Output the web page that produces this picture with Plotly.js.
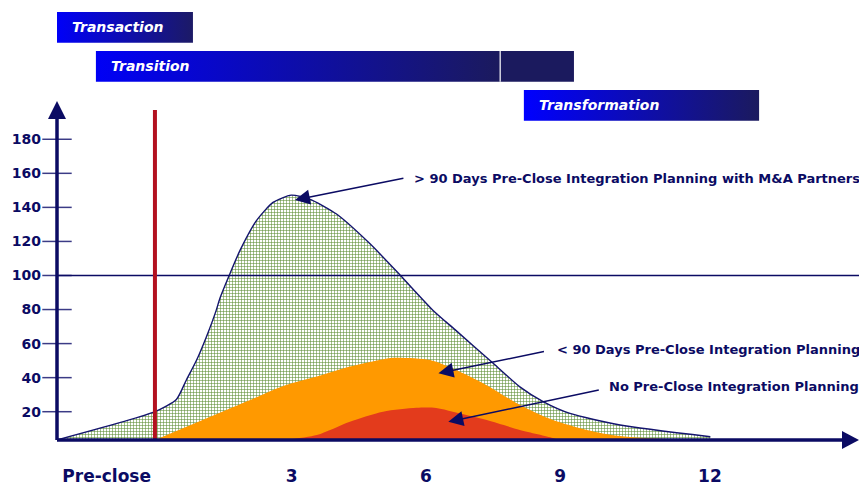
<!DOCTYPE html>
<html><head><meta charset="utf-8">
<script src="https://cdn.plot.ly/plotly-3.0.1.min.js"></script>
<style>html,body{margin:0;padding:0;background:#fff}#chart{width:859px;height:486px}</style>
</head><body><div id="chart"></div>
<script>
// ---- data (x = months relative to close) ----
const withPartnersX = [-2.25, -0.06, 0.42, 0.64, 0.87, 1.09, 1.31, 1.39, 1.60, 1.84, 2.21, 2.58, 2.99, 3.40, 4.00, 4.75, 5.43, 6.16, 6.65, 7.51, 8.10, 8.63, 9.22, 10.34, 12.36];
const withPartnersY = [3.4, 20, 27.2, 38.5, 50.2, 63.9, 79.5, 86.4, 100, 114.6, 132.2, 142.9, 147.2, 144.9, 136.1, 118.6, 100, 79.5, 68.2, 48.3, 34.6, 25.8, 19.0, 12.2, 5.3];

const under90X = [-0.06, 2.07, 2.81, 3.56, 4.30, 5.05, 5.27, 6.09, 6.60, 7.36, 8.10, 8.84, 9.60, 10.34, 11.86];
const under90Y = [3.4, 26.9, 35.1, 40.6, 46.5, 50.8, 51.7, 50.4, 45.4, 35.6, 23.9, 15.1, 9.3, 5.7, 3.4];

const noPlanX = [2.81, 3.56, 4.30, 5.04, 5.79, 6.23, 6.60, 7.36, 8.10, 8.84, 8.96];
const noPlanY = [3.4, 6.3, 14.1, 20, 22.3, 22.2, 20, 15.1, 9.3, 4.6, 3.4];

const seriesLabels = ['> 90 Days Pre-Close Integration Planning with M&A Partners',
                      '< 90 Days Pre-Close Integration Planning',
                      'No Pre-Close Integration Planning'];

const xTickVals = [-1.14, 3, 6, 9, 12.35];
const xTickText = ['Pre-close', '3', '6', '9', '12'];
const yTickVals = [20, 40, 60, 80, 100, 120, 140, 160, 180];

const phaseNames = ['Transaction', 'Transition', 'Transformation'];
const phaseStart = [-2.25, -1.38, 8.19];
const phaseEnd   = [0.79, 9.31, 13.45];
const phaseRow   = [0, 1, 2];
const transitionSplit = 7.66;

const closeMark = -0.06;
const referenceLevel = 100;

// ---- style ----
const NAVY = '#0b0b63';
const FONT = 'DejaVu Sans, Verdana, sans-serif';
const xRange = [-2.25, 15.684];
const yRange = [3.38, 201.3];
const yDomTop = 0.7659;
const y2Range = [10.579, -0.7026];
const barHalf = 0.395;
const plotW = 802, plotH = 440;

const traces = [];
traces.push({
  x: withPartnersX, y: withPartnersY, type: 'scatter', mode: 'lines',
  line: {color: '#14146e', width: 1.4, shape: 'spline', smoothing: 0.6},
  fill: 'tozeroy',
  fillpattern: {shape: '+', size: 3, solidity: 0.34, fgcolor: '#5e8f36', bgcolor: '#ffffff'},
  hoverinfo: 'skip', showlegend: false
});
traces.push({
  x: under90X, y: under90Y, type: 'scatter', mode: 'lines',
  line: {color: '#ff9900', width: 0, shape: 'spline', smoothing: 0.8},
  fill: 'tozeroy', fillcolor: '#ff9900', hoverinfo: 'skip', showlegend: false
});
traces.push({
  x: noPlanX, y: noPlanY, type: 'scatter', mode: 'lines',
  line: {color: '#e33b1c', width: 0, shape: 'spline', smoothing: 0.8},
  fill: 'tozeroy', fillcolor: '#e33b1c', hoverinfo: 'skip', showlegend: false
});
// cross tick marks on y axis
traces.push({
  x: yTickVals.map(() => xRange[0]), y: yTickVals, type: 'scatter', mode: 'markers',
  marker: {symbol: 'line-ew', size: 21, line: {color: '#3b3b86', width: 1.5}},
  cliponaxis: false, hoverinfo: 'skip', showlegend: false
});
// phase banners
const grads = [
  [[0, '#0000f8'], [1, '#1c1a66']],
  [[0, '#0000f5'], [0.84, '#1b1a5e'], [1, '#1b1a5e']],
  [[0, '#0000ff'], [1, '#1b1a5e']]
];
phaseNames.forEach((n, i) => {
  const r = phaseRow[i];
  traces.push({
    x: [phaseStart[i], phaseEnd[i], phaseEnd[i], phaseStart[i], phaseStart[i]],
    y: [r - barHalf, r - barHalf, r + barHalf, r + barHalf, r - barHalf],
    xaxis: 'x', yaxis: 'y2', type: 'scatter', mode: 'lines',
    line: {width: 0}, fill: 'toself',
    fillgradient: {type: 'horizontal', colorscale: grads[i]},
    hoverinfo: 'skip', showlegend: false
  });
});

const shapes = [];
// reference line at 100
shapes.push({type: 'line', xref: 'paper', yref: 'y', x0: 0, x1: 1, y0: referenceLevel, y1: referenceLevel,
  line: {color: NAVY, width: 1.5}, layer: 'above'});
// close marker (red)
shapes.push({type: 'line', xref: 'x', yref: 'y', x0: closeMark, x1: closeMark, y0: yRange[0], y1: 197.2,
  line: {color: '#b3111f', width: 4}, layer: 'above'});
// transition divider
shapes.push({type: 'line', xref: 'x', yref: 'y2', x0: transitionSplit, x1: transitionSplit,
  y0: 1 - barHalf, y1: 1 + barHalf, line: {color: '#ffffff', width: 1.2}, layer: 'above'});
// axes lines
shapes.push({type: 'line', xref: 'paper', yref: 'paper', x0: 0, x1: 0, y0: 0, y1: 0.75,
  line: {color: NAVY, width: 3.5}, layer: 'above'});
shapes.push({type: 'line', xref: 'paper', yref: 'paper', x0: 0, x1: 1 - 14 / plotW, y0: 0, y1: 0,
  line: {color: NAVY, width: 3.5}, layer: 'above'});
// arrowheads
const yTip = (440 - 101) / plotH, yBase = (440 - 119) / plotH, hw = 9 / plotW;
shapes.push({type: 'path', xref: 'paper', yref: 'paper',
  path: `M 0 ${yTip} L ${-hw} ${yBase} L ${hw} ${yBase} Z`,
  fillcolor: NAVY, line: {width: 0}, layer: 'above'});
const xBase = 1 - 17 / plotW, vh = 9 / plotH;
shapes.push({type: 'path', xref: 'paper', yref: 'paper',
  path: `M 1 0 L ${xBase} ${vh} L ${xBase} ${-vh} Z`,
  fillcolor: NAVY, line: {width: 0}, layer: 'above'});

const annotations = [];
// series labels + arrows
const labelPos = [[5.68, 157.2], [8.89, 56.7], [10.05, 34.6]];
const arrowTip = [[3.07, 144.3], [6.28, 42.6], [6.50, 14.1]];
const arrowOff = [[110, -22], [107, -22], [152, -32]];
seriesLabels.forEach((t, i) => {
  annotations.push({x: labelPos[i][0], y: labelPos[i][1], xref: 'x', yref: 'y', text: t,
    showarrow: false, xanchor: 'left', yanchor: 'middle',
    font: {family: FONT, size: 13, color: NAVY, weight: 'bold'}});
  annotations.push({x: arrowTip[i][0], y: arrowTip[i][1], xref: 'x', yref: 'y', text: '',
    showarrow: true, ax: arrowOff[i][0], ay: arrowOff[i][1], axref: 'pixel', ayref: 'pixel',
    arrowhead: 2, arrowsize: 2, arrowwidth: 1.5, arrowcolor: NAVY, standoff: 0});
});
phaseNames.forEach((n, i) => {
  annotations.push({x: phaseStart[i], y: phaseRow[i], xref: 'x', yref: 'y2', text: n,
    showarrow: false, xanchor: 'left', yanchor: 'middle', xshift: 13,
    font: {family: FONT, size: 14, color: '#ffffff', weight: 'bold', style: 'italic'}});
});

const layout = {
  width: 859, height: 486,
  margin: {l: 57, r: 0, t: 0, b: 46},
  paper_bgcolor: '#ffffff', plot_bgcolor: 'rgba(0,0,0,0)',
  showlegend: false,
  xaxis: {range: xRange, showgrid: false, zeroline: false, showline: false, ticks: '',
    tickvals: xTickVals, ticktext: xTickText, ticklabelstandoff: 24,
    tickfont: {family: FONT, size: 17, color: NAVY, weight: 'bold'}},
  yaxis: {domain: [0, yDomTop], range: yRange, showgrid: false, zeroline: false, showline: false,
    ticks: '', tickvals: yTickVals, ticklabelstandoff: 15,
    tickfont: {family: FONT, size: 14, color: NAVY, weight: 'bold'}},
  yaxis2: {domain: [0, 1], range: y2Range, anchor: 'x', visible: false,
    showgrid: false, zeroline: false},
  shapes: shapes, annotations: annotations
};
Plotly.newPlot('chart', traces, layout, {displayModeBar: false, staticPlot: true});
</script></body></html>
